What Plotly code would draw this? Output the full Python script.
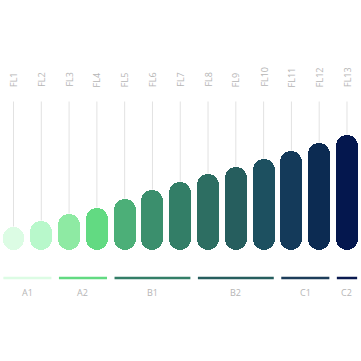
import plotly.graph_objects as go

categories = ["FL1", "FL2", "FL3", "FL4", "FL5", "FL6", "FL7", "FL8", "FL9", "FL10", "FL11", "FL12", "FL13"]
values = [23, 29, 36, 42, 51, 60, 68, 76, 83, 91, 99, 107, 115]
bar_colors = ["#dcfce4", "#b8f8cb", "#8eeaa3", "#62da82", "#4caf78", "#3b8f6d", "#337e67",
              "#2d6e62", "#265e5e", "#1d5060", "#143a5a", "#0c2b52", "#04174e"]
groups = ["A1", "A2", "B1", "B2", "C1", "C2"]
group_members = [["FL1", "FL2"], ["FL3", "FL4"], ["FL5", "FL6", "FL7"],
                 ["FL8", "FL9", "FL10"], ["FL11", "FL12"], ["FL13"]]
group_colors = ["#dcfce4", "#62da82", "#337e67", "#265e5e", "#1d3d5a", "#0a1a50"]

idx = {c: i for i, c in enumerate(categories)}
xs = list(range(len(categories)))
BW = 0.79
GUIDE_TOP = 148
GROUP_Y = -28.5
GROUP_LABEL_Y = -42.5
LABEL_Y = 160.5

fig = go.Figure()

# guide lines
gx, gy = [], []
for i, v in zip(xs, values):
    gx += [i, i, None]
    gy += [v, GUIDE_TOP, None]
fig.add_trace(go.Scatter(x=gx, y=gy, mode="lines", line=dict(color="#e2e2e2", width=1),
                         hoverinfo="skip", showlegend=False))

# pill bars
fig.add_trace(go.Bar(x=xs, y=values, base=[0] * len(values), width=BW,
                     marker=dict(color=bar_colors, cornerradius="50%", line=dict(width=0)),
                     hoverinfo="skip", showlegend=False))

# group lines
for g, mem, col in zip(groups, group_members, group_colors):
    a = idx[mem[0]] - BW / 2 + 0.03
    b = idx[mem[-1]] + BW / 2 - 0.03
    fig.add_trace(go.Scatter(x=[a, b], y=[GROUP_Y, GROUP_Y], mode="lines",
                             line=dict(color=col, width=2.5), hoverinfo="skip", showlegend=False))
    fig.add_annotation(x=(idx[mem[0]] + idx[mem[-1]]) / 2, y=GROUP_LABEL_Y, text=g,
                       showarrow=False, font=dict(family="Open Sans", size=9, color="#b5b5b5"),
                       xanchor="center", yanchor="middle")

for c, i in idx.items():
    fig.add_annotation(x=i, y=LABEL_Y, text=c, textangle=-90, showarrow=False,
                       font=dict(family="Open Sans", size=9, color="#b5b5b5"),
                       xanchor="center", yanchor="bottom")

fig.update_layout(
    width=361, height=361, margin=dict(l=0, r=0, t=0, b=0),
    paper_bgcolor="white", plot_bgcolor="white",
    barmode="overlay", bargap=0,
    xaxis=dict(range=[-0.486, 12.504], visible=False, fixedrange=True),
    yaxis=dict(range=[-111.5, 249.5], visible=False, fixedrange=True),
)
fig.write_html("out.html", config={"displayModeBar": False},
               post_script="document.body.style.margin='0';")
